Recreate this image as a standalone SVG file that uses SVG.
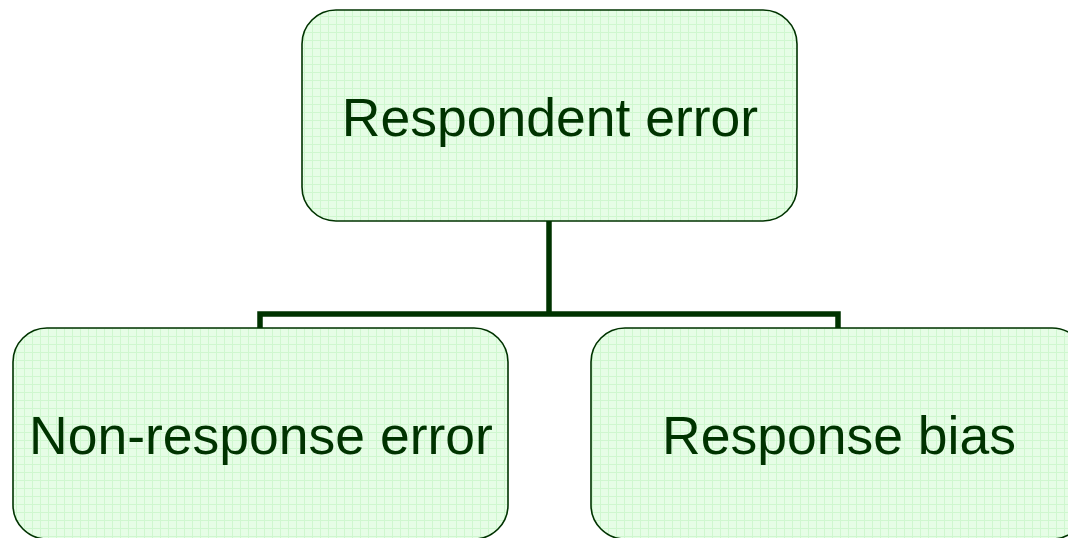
<svg xmlns="http://www.w3.org/2000/svg" width="1068" height="538" viewBox="0 0 1068 538">
<defs>
<pattern id="grid" width="8" height="8" patternUnits="userSpaceOnUse">
<rect width="8" height="8" fill="#e6fde6"/>
<path d="M0 0.5H8M0.5 0V8" stroke="#cff7cf" stroke-width="1" fill="none"/>
</pattern>
<style>
.box{fill:url(#grid);stroke:#003300;stroke-width:1.6}
.lbl{font-family:"Liberation Sans",Arial,sans-serif;font-size:53.5px;fill:#003300;text-anchor:middle}
.conn{fill:none;stroke:#003300;stroke-width:5.5}
</style>
</defs>
<rect width="1068" height="538" fill="#ffffff"/>
<g id="connectors">
<path class="conn" d="M549 221V314M260 330V314H838V330"/>
</g>
<g id="node-respondent-error">
<rect class="box" x="302" y="10" width="495" height="211" rx="34" ry="34"/>
<text class="lbl" x="550" y="136">Respondent error</text>
</g>
<g id="node-non-response-error">
<rect class="box" x="13" y="328" width="495" height="211" rx="34" ry="34"/>
<text class="lbl" x="261" y="454">Non-response error</text>
</g>
<g id="node-response-bias">
<rect class="box" x="591" y="328" width="495" height="211" rx="34" ry="34"/>
<text class="lbl" x="839" y="454">Response bias</text>
</g>
</svg>
